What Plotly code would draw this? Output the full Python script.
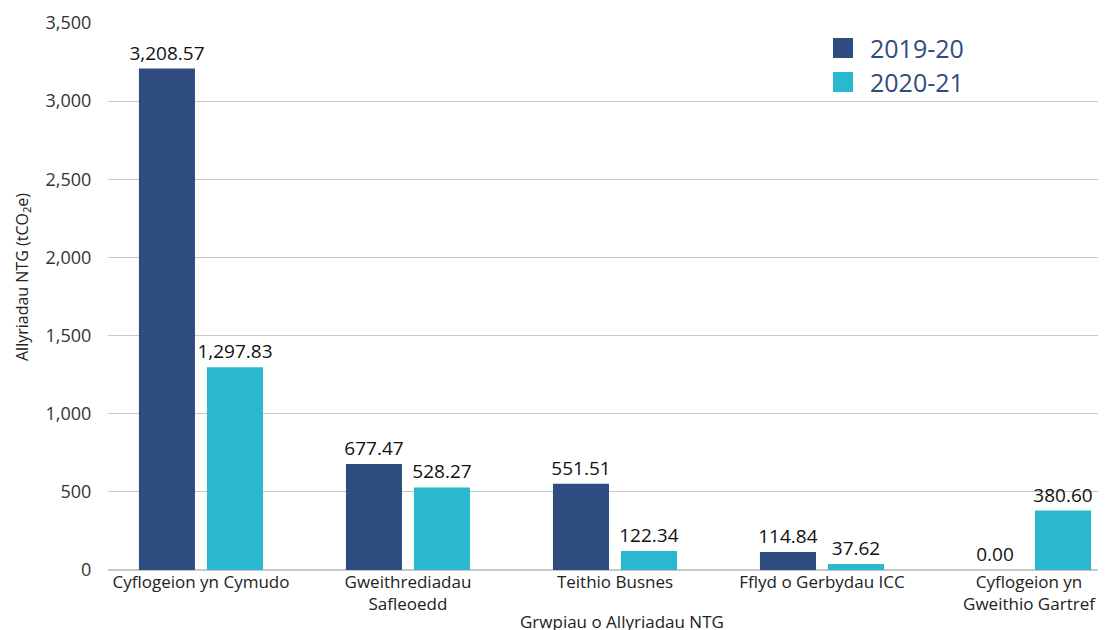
import plotly.graph_objects as go

categories = ["Cyflogeion yn Cymudo", "Gweithrediadau<br>Safleoedd", "Teithio Busnes",
              "Fflyd o Gerbydau ICC", "Cyflogeion yn<br>Gweithio Gartref"]
series_names = ["2019-20", "2020-21"]
values_2019 = [3208.57, 677.47, 551.51, 114.84, 0.00]
values_2020 = [1297.83, 528.27, 122.34, 37.62, 380.60]
y_ticks = [0, 500, 1000, 1500, 2000, 2500, 3000, 3500]
colors = ["#2F4C80", "#29B8CE"]

# page body has an 8px default margin; work in screen pixels and offset
OFF = 8
W, H = 1106 - OFF, 630 - OFF
L, R, T, B = 108, 1106, 23, 570  # plot area in screen pixels
def px(x):
    return (x - L) / (R - L)
def py(y):
    return (B - y) / (B - T)

x_idx = list(range(len(categories)))
fig = go.Figure()
for name, vals, col in zip(series_names, [values_2019, values_2020], colors):
    fig.add_trace(go.Bar(
        x=x_idx, y=vals, name=name, marker_color=col, marker_line_width=0,
        texttemplate="%{y:,.2f}", textposition="outside", cliponaxis=False,
        constraintext="none", textfont=dict(size=19, color="#111111"),
        showlegend=False,
    ))

shapes = []
annotations = []
legend_rows = [(38, 58, 48), (72, 92, 82)]
for (y0, y1, yc), name, col in zip(legend_rows, series_names, colors):
    shapes.append(dict(type="rect", xref="paper", yref="paper",
                       x0=px(833), x1=px(853), y0=py(y1), y1=py(y0),
                       fillcolor=col, line_width=0))
    annotations.append(dict(text=name, xref="paper", yref="paper", x=px(868), y=py(yc),
                            xanchor="left", yanchor="middle", showarrow=False,
                            font=dict(size=25, color="#2F4C80")))

annotations.append(dict(text="Grwpiau o Allyriadau NTG", xref="paper", yref="paper",
                        x=px(622), y=py(621), xanchor="center", yanchor="middle",
                        showarrow=False, font=dict(size=17, color="#222222")))
annotations.append(dict(text="Allyriadau NTG (tCO<sub>2</sub>e)", xref="paper", yref="paper",
                        x=px(22), y=py(277), xanchor="center", yanchor="middle",
                        textangle=-90, showarrow=False, font=dict(size=16, color="#222222")))

fig.update_layout(
    width=W, height=H,
    margin=dict(l=L - OFF, r=1106 - R, t=T - OFF, b=630 - B, autoexpand=False),
    paper_bgcolor="white", plot_bgcolor="white",
    font=dict(family="Open Sans", color="#222222"),
    barmode="group", bargap=0.343, bargroupgap=0.176,
    showlegend=False, shapes=shapes, annotations=annotations,
)
fig.update_xaxes(
    tickmode="array", tickvals=x_idx, ticktext=categories, automargin=False,
    range=[-0.449, 4.372], showgrid=False, showline=False, ticks="",
    tickfont=dict(size=17, color="#222222"),
)
fig.update_yaxes(
    range=[0, 3500], tickvals=y_ticks, tickformat=",", showgrid=True, automargin=False,
    gridcolor="#C8C8C8", gridwidth=1, zeroline=True, zerolinecolor="#C8C8C8", zerolinewidth=1.5,
    tickfont=dict(size=18, color="#333333"), ticks="outside", ticklen=12, tickcolor="rgba(0,0,0,0)",
)
fig.write_html("out.html")
